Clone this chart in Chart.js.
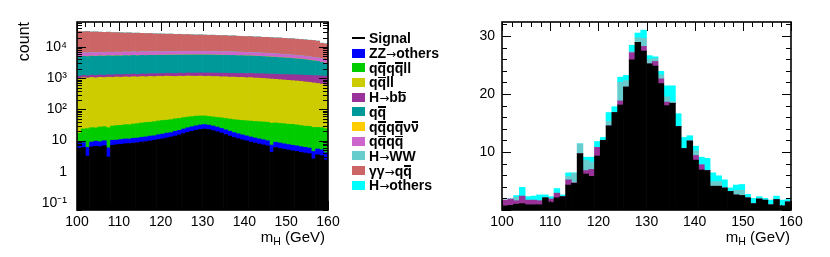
<!DOCTYPE html>
<html><head><meta charset="utf-8">
<script src="https://cdn.jsdelivr.net/npm/chart.js@4"></script>
<style>
html,body{margin:0;padding:0;background:#fff;}
#wrap{position:relative;width:830px;height:257px;overflow:hidden;font-family:'Liberation Sans',Arial,sans-serif;}
canvas{position:absolute;top:0;}
#cL{left:0;} #cR{left:460px;}
#legend{position:absolute;left:350px;top:0;width:110px;height:257px;z-index:2;}
.row{position:absolute;left:0;height:14px;white-space:nowrap;font-weight:bold;font-size:14px;line-height:14px;color:#000;}
.sw{position:absolute;left:2px;width:13px;height:9px;top:2.5px;}
.ln{position:absolute;left:2px;width:13px;height:2px;top:6px;background:#000;}
.tx{position:absolute;left:19px;top:0;}
.ob{position:relative;display:inline-block;}
.ob::after{content:'';position:absolute;left:0.5px;right:0.5px;top:1.5px;height:1.6px;background:#000;}
.ar{font-family:'DejaVu Sans';font-weight:normal;font-size:12px;}
</style></head><body>
<div id="wrap">
<canvas id="cL" width="360" height="257"></canvas>
<canvas id="cR" width="370" height="257"></canvas>
<div id="legend"></div>
</div>
<script>
// ---------- series names & colours ----------
const seriesNames = ['Signal','ZZ\u2192others','qq\u0305qq\u0305ll','qq\u0305ll','H\u2192bb\u0305','qq\u0305',
  'qq\u0305qq\u0305\u03BD\u03BD\u0305','qq\u0305qq\u0305','H\u2192WW','\u03B3\u03B3\u2192qq\u0305','H\u2192others'];
const seriesColors = ['#000000','#0000ff','#00cc00','#cccc00','#993399','#009999','#ffcc00','#cc66cc','#66cccc','#cc6666','#00ffff'];

// ---------- left panel (log), 60 bins of 1 GeV, 100-160 ----------
const sigL = [5.5,6.0,3.2,6.3,6.6,6.4,6.8,3.0,7.1,7.4, 7.6,7.9,8.1,8.3,8.6,9.0,9.3,9.8,10.3,10.9,
  11.4,12.2,13.0,14.0,15.2,16.8,18.4,20.0,21.5,22.8, 23.5,22.6,21.0,19.2,17.4,15.6,14.0,12.6,11.5,10.6,
  9.8,9.0,8.4,7.8,7.3,6.8,4.2,6.0,5.6,5.3, 5.0,4.7,4.5,4.2,4.0,3.8,2.6,3.5,3.3,2.4];
const zzL = [2.8,2.6,2.9,2.7,3.0,2.8,3.1,2.9,3.2,3.0, 3.3,3.4,3.2,3.6,3.5,3.8,3.9,4.2,4.0,4.6,
  4.8,5.2,5.0,5.9,6.2,6.8,7.4,7.9,8.3,8.9, 9.2,8.8,8.4,7.9,7.2,6.6,6.1,5.5,5.1,4.7,
  4.4,4.1,3.8,3.6,3.4,3.1,3.0,2.9,2.8,2.6, 2.5,2.4,2.3,2.2,2.1,2.0,1.9,1.9,1.8,1.7];
const qqqqllL = [9,15,18,17,16,18,18,20,19,20, 20,21,21,22,23,24,25,25,26,27,
  28,28,29,30,30,31,31,31,31,30, 29,28,28,28,29,29,29,29,29,29,
  29,29,29,29,29,29,29,28,27,27, 26,26,25,24,23,23,22,21,21,20];
const qqllL = [960,1010,990,1030,1000,1040,1020,1050,1030,1060, 1040,1070,1050,1080,1060,1090,1070,1100,1080,1110,
  1090,1120,1100,1080,1110,1090,1120,1100,1090,1110, 1080,1100,1070,1080,1050,1060,1030,1040,1010,1020,
  990,1000,970,960,940,920,900,880,860,840, 820,800,780,760,730,710,680,650,620,580];
const hbbL = [170,185,175,190,195,200,190,210,205,215, 220,215,230,235,225,245,240,250,260,255,
  265,270,280,275,290,285,300,295,310,305, 320,315,330,325,340,335,350,345,360,365,
  370,380,375,390,400,395,410,420,415,430, 440,450,460,470,480,490,500,520,530,550];
const qqL = [3700,3800,3750,3850,3800,3900,3850,3950,3880,3920, 3900,3980,3940,4000,3960,4020,3990,4050,4000,4060,
  4010,4070,4030,4090,4050,4100,4060,4120,4080,4100, 4070,4090,4040,4050,3990,4000,3940,3930,3870,3850,
  3800,3750,3700,3640,3570,3500,3420,3340,3260,3180, 3100,3000,2900,2800,2700,2550,2400,2250,2050,1850];
const qqqqnunuL = [32,30,35,31,29,34,33,30,36,32, 31,35,33,30,34,32,36,31,33,35,
  34,32,37,33,35,31,34,36,32,35, 33,34,31,35,32,33,30,34,31,32,
  30,33,29,31,30,32,28,30,29,31, 28,29,27,30,28,27,29,26,27,25];
const qqqqL = [1380,1420,1400,1440,1420,1460,1430,1470,1450,1480, 1460,1490,1470,1500,1480,1510,1490,1520,1500,1530,
  1510,1540,1520,1550,1530,1560,1540,1570,1550,1560, 1540,1550,1520,1530,1500,1500,1470,1460,1440,1420,
  1400,1380,1360,1340,1310,1290,1260,1230,1210,1180, 1150,1120,1090,1060,1030,990,960,920,880,840];
const hwwL = [70,75,68,80,72,78,74,82,76,80, 79,84,77,83,81,86,80,88,84,87,
  85,90,86,92,88,91,89,94,90,92, 91,89,93,88,90,86,89,84,87,83,
  85,80,83,78,81,76,79,74,77,72, 75,70,73,68,71,66,69,64,66,62];
const ggqqL = [25500,24200,24800,23600,23900,23100,22700,23000,22200,22000, 21800,21200,21500,20700,20900,20300,19900,20100,19400,19200,
  19000,18600,18800,18100,18300,17700,17900,17300,17000,17200, 16900,16500,16700,16200,16000,16200,15600,15800,15200,15000,
  14800,14900,14400,14500,14000,14100,13700,13500,13600,13100, 12800,12900,12400,12200,11900,11600,11500,11000,9000,8700];
const hothL = [22,25,21,24,23,26,22,27,24,25, 26,24,28,25,27,26,29,27,28,30,
  29,31,30,33,32,35,34,37,36,38, 39,37,36,34,33,31,30,29,28,27,
  27,26,25,26,24,25,23,24,22,23, 22,21,22,20,21,19,20,18,19,17];

// ---------- right panel (linear), 50 bins of 1.2 GeV ----------
const sigR = [0.7,0.8,1.0,1.1,0.9,0.9,0.9,2.1,1.3,2.1, 2.3,4.3,4.6,9.7,6.2,5.8,9.3,12.0,14.5,16.8,
  18.1,21.2,25.9,28.9,27.4,25.2,24.8,21.8,18.0,18.4, 14.4,10.6,11.9,8.6,6.9,6.8,4.1,4.1,3.8,3.2,
  2.6,2.5,2.1,1.1,1.9,1.7,0.9,1.8,0.7,1.4];
const hbbR = [1.0,1.1,0.6,1.3,0.8,0.8,0.7,0,0.6,0.8, 0,0.9,0.1,0,0.6,1.2,1.5,0,0,0,
  0.7,0,1.2,0,0.8,0,0.8,0.8,0.6,0, 0,0,0,0.8,0.9,0,0,0,0,0,
  0,0,0,0,0,0,0,0,0,0];
const hwwR = [0,0,0.6,0,0,0,0,0,0,0, 0,0.6,1.6,1.7,1.8,1.3,0,0,0.8,0,
  3.2,1.1,0.2,0.8,1.4,0.8,0.5,0.7,0.9,0.3, 0,0,0,0.8,0,0,0.8,0.8,0,0,
  0.8,0.9,0,0,0,0,0,0,0,0];
const hothR = [0,0,0.3,1.5,0.6,0.7,1.0,0.5,0.4,0.8, 0.3,0.6,0.1,0,0.5,0.8,1.0,0.5,1.5,1.0,
  0.9,0.9,1.1,0.8,1.4,0.6,0.3,0.6,1.9,2.7, 2.2,1.9,0.9,0.8,1.3,2.1,1.5,1.0,1.4,0.6,
  0.9,1.0,0.6,0.9,0.4,0.3,0.8,0.6,1.0,0.4];

// ---------- axis ticks ----------
const xTickVals = [100,110,120,130,140,150,160];
const yLogTickVals = [0.1,1,10,100,1000,10000];
const yLogTickLabels = ['10\u207B\u00B9','1','10','10\u00B2','10\u00B3','10\u2074'];
const yLinTickVals = [10,20,30];

const binsL = Array.from({length:sigL.length},(_,i)=>100+(i+0.5)*60/sigL.length);
const binsR = Array.from({length:sigR.length},(_,i)=>100+(i+0.5)*60/sigR.length);

const FONT = "'Liberation Sans', Arial, Helvetica, sans-serif";
Chart.defaults.font.family = FONT;
Chart.defaults.color = '#000';

function ds(label, data, color){
  return {label, data, backgroundColor: color, borderWidth: 0, barPercentage: 1, categoryPercentage: 1};
}

function frameTicksPlugin(isLog){
  return {
    id: 'frameTicks',
    afterDatasetsDraw(chart){
      const {ctx, chartArea: a} = chart;
      const xs = chart.scales.x2, ys = chart.scales.y;
      ctx.save();
      ctx.strokeStyle = '#000';
      ctx.lineWidth = 1;
      const line = (x1,y1,x2,y2)=>{ctx.beginPath();ctx.moveTo(x1,y1);ctx.lineTo(x2,y2);ctx.stroke();};
      for (let v = 100; v <= 160; v += 2){
        const px = Math.round(xs.getPixelForValue(v)) + 0.5;
        const L = (v % 10 === 0) ? 9 : 5;
        line(px, a.bottom, px, a.bottom - L);
        line(px, a.top, px, a.top + L);
      }
      const yt = [];
      if (isLog){
        for (let e = -2; e <= 5; e++){
          for (let k = 1; k <= 9; k++){
            const v = k * Math.pow(10, e);
            if (v >= ys.min && v <= ys.max) yt.push([v, k === 1]);
          }
        }
      } else {
        for (let v = 0; v <= ys.max; v += 2) yt.push([v, v % 10 === 0]);
      }
      yt.forEach(([v, major])=>{
        const py = Math.round(ys.getPixelForValue(v)) + 0.5;
        const L = major ? 9 : 5;
        line(a.left, py, a.left + L, py);
        line(a.right, py, a.right - L, py);
      });
      ctx.lineWidth = 1.6;
      ctx.strokeRect(a.left, a.top, a.width, a.height);
      ctx.restore();
    }
  };
}

function titlesPlugin(withCount, xTitleRight){
  return {
    id: 'titles',
    afterDraw(chart){
      const ctx = chart.ctx;
      ctx.save();
      ctx.fillStyle = '#000';
      ctx.textBaseline = 'alphabetic';
      ctx.textAlign = 'left';
      ctx.font = '15px ' + FONT;
      const wm = ctx.measureText('m').width;
      const wr = ctx.measureText(' (GeV)').width;
      ctx.font = '10.5px ' + FONT;
      const wh = ctx.measureText('H').width;
      let x = xTitleRight - (wm + wh + wr);
      const base = 241.5;
      ctx.font = '15px ' + FONT;
      ctx.fillText('m', x, base);
      ctx.font = '10.5px ' + FONT;
      ctx.fillText('H', x + wm, base + 3.5);
      ctx.font = '15px ' + FONT;
      ctx.fillText(' (GeV)', x + wm + wh, base);
      if (withCount){
        ctx.translate(28.5, 22);
        ctx.rotate(-Math.PI/2);
        ctx.textAlign = 'right';
        ctx.font = '16px ' + FONT;
        ctx.fillText('count', 0, 0);
      }
      ctx.restore();
    }
  };
}

function x2Scale(){
  return {
    type: 'linear', position: 'bottom', min: 100, max: 160, offset: false,
    grid: {display: false, drawTicks: false, offset: false}, border: {display: false},
    ticks: {padding: 4, maxRotation: 0, autoSkip: false, font: {size: 14}, color: '#000'},
    afterBuildTicks: s => { s.ticks = xTickVals.map(v => ({value: v})); },
    afterFit: s => { s.height = 47; }
  };
}

// ---------- left chart ----------
const leftData = [sigL, zzL, qqqqllL, qqllL, hbbL, qqL, qqqqnunuL, qqqqL, hwwL, ggqqL, hothL];
new Chart(document.getElementById('cL'), {
  type: 'bar',
  data: {
    labels: binsL,
    datasets: leftData.map((d, i) => ds(seriesNames[i], d, seriesColors[i]))
  },
  options: {
    responsive: false, animation: false,
    layout: {padding: {top: 22, right: 32, left: 0, bottom: 0}},
    plugins: {legend: {display: false}, tooltip: {enabled: false}},
    scales: {
      x: {type: 'category', display: false, stacked: true},
      x2: x2Scale(),
      y: {
        type: 'logarithmic', stacked: true, min: 0.06, max: 63000,
        grid: {display: false, drawTicks: false}, border: {display: false},
        ticks: {padding: 10, font: {size: 14}, color: '#000',
          callback: (v) => { const i = yLogTickVals.indexOf(v); return i >= 0 ? yLogTickLabels[i] : ''; }},
        afterBuildTicks: s => { s.ticks = yLogTickVals.map(v => ({value: v})); },
        afterFit: s => { s.width = 77; }
      }
    }
  },
  plugins: [frameTicksPlugin(true), titlesPlugin(true, 325)]
});

// ---------- right chart ----------
const rightData = [sigR, hbbR, hwwR, hothR];
const rightIdx = [0, 4, 8, 10];
new Chart(document.getElementById('cR'), {
  type: 'bar',
  data: {
    labels: binsR,
    datasets: rightData.map((d, j) => ds(seriesNames[rightIdx[j]], d, seriesColors[rightIdx[j]]))
  },
  options: {
    responsive: false, animation: false,
    layout: {padding: {top: 22, right: 39, left: 0, bottom: 0}},
    plugins: {legend: {display: false}, tooltip: {enabled: false}},
    scales: {
      x: {type: 'category', display: false, stacked: true},
      x2: x2Scale(),
      y: {
        type: 'linear', stacked: true, min: 0, max: 32.4,
        grid: {display: false, drawTicks: false}, border: {display: false},
        ticks: {padding: 7, font: {size: 14}, color: '#000'},
        afterBuildTicks: s => { s.ticks = yLinTickVals.map(v => ({value: v})); },
        afterFit: s => { s.width = 42; }
      }
    }
  },
  plugins: [frameTicksPlugin(false), titlesPlugin(false, 330)]
});

// ---------- legend ----------
const leg = document.getElementById('legend');
function legendHTML(name){
  let s = name.replace(/&/g,'&amp;').replace(/</g,'&lt;');
  s = s.replace(/(.)\u0305/g, '<span class="ob">$1</span>');
  s = s.replace(/\u2192/g, '<span class="ar">\u2192</span>');
  return s;
}
seriesNames.forEach((n, i) => {
  const row = document.createElement('div');
  row.className = 'row';
  row.style.top = (38.3 + 14.7 * i - 7) + 'px';
  const mk = document.createElement('div');
  if (i === 0){ mk.className = 'ln'; }
  else { mk.className = 'sw'; mk.style.background = seriesColors[i]; }
  row.appendChild(mk);
  const t = document.createElement('div');
  t.className = 'tx';
  t.innerHTML = legendHTML(n);
  row.appendChild(t);
  leg.appendChild(row);
});
</script>
</body></html>
